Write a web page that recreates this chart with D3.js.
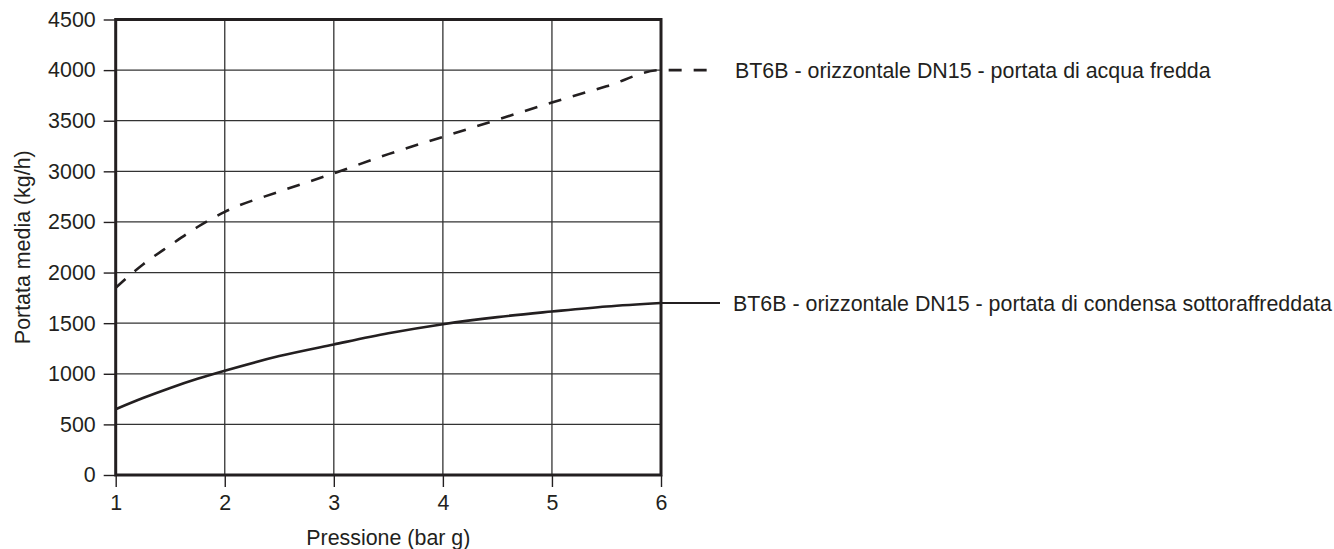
<!DOCTYPE html>
<html lang="it">
<head>
<meta charset="UTF-8">
<title>BT6B - portata media</title>
<script src="https://d3js.org/d3.v7.min.js"></script>
<style>
    html, body { margin: 0; padding: 0; background: #fff; }
    svg { display: block; }
    svg text { font-family: "Liberation Sans", Arial, sans-serif; fill: #231f20; }
</style>
</head>
<body>
<svg width="1334" height="549"></svg>
<script>
// pressure (bar g)
const pressione = [1, 1.25, 1.5, 1.75, 2, 2.5, 3, 3.5, 4, 4.5, 5, 5.5, 6];
// cold water flow, kg/h (dashed)
const acquaFredda = [1850, 2080, 2270, 2450, 2600, 2800, 2980, 3170, 3340, 3510, 3680, 3840, 4000];
// subcooled condensate flow, kg/h (solid)
const condensa = [650, 760, 860, 950, 1030, 1175, 1290, 1400, 1490, 1560, 1615, 1665, 1700];

const xTicks = [1, 2, 3, 4, 5, 6];
const yTicks = [0, 500, 1000, 1500, 2000, 2500, 3000, 3500, 4000, 4500];

const labelAcqua = "BT6B - orizzontale DN15 - portata di acqua fredda";
const labelCondensa = "BT6B - orizzontale DN15 - portata di condensa sottoraffreddata";

const ink = "#231f20";
const fs = 21.4;
const svg = d3.select("svg");

const x = d3.scaleLinear().domain([1, 6]).range([115.7, 661]);
const y = d3.scaleLinear().domain([0, 4500]).range([475, 19.5]);

// grid
const grid = svg.append("g").attr("stroke", "#333").attr("stroke-width", 1.3);
grid.selectAll(".vg").data(xTicks.slice(1, -1)).join("line")
    .attr("x1", d => x(d)).attr("x2", d => x(d))
    .attr("y1", y(0)).attr("y2", y(4500));
grid.selectAll(".hg").data(yTicks.slice(1, -1)).join("line")
    .attr("x1", x(1)).attr("x2", x(6))
    .attr("y1", d => y(d)).attr("y2", d => y(d));

// axes
const yAxis = svg.append("g")
    .attr("transform", `translate(${x(1)},0)`)
    .call(d3.axisLeft(y).tickValues(yTicks).tickFormat(d3.format("d")).tickSize(12).tickPadding(8));
const xAxis = svg.append("g")
    .attr("transform", `translate(0,${y(0)})`)
    .call(d3.axisBottom(x).tickValues(xTicks).tickFormat(d3.format("d")).tickSize(12).tickPadding(8));
[xAxis, yAxis].forEach(a => {
    a.attr("font-family", null).attr("font-size", null);
    a.select(".domain").remove();
    a.selectAll(".tick line").attr("stroke", ink).attr("stroke-width", 1.4);
    a.selectAll(".tick text").attr("font-size", fs).attr("fill", ink);
});

// frame
svg.append("rect")
    .attr("x", x(1)).attr("y", y(4500))
    .attr("width", x(6) - x(1)).attr("height", y(0) - y(4500))
    .attr("fill", "none").attr("stroke", ink).attr("stroke-width", 3);

// curves
const line = d3.line().curve(d3.curveMonotoneX);
const ptsAcqua = pressione.map((p, i) => [x(p), y(acquaFredda[i])]);
const ptsCondensa = pressione.map((p, i) => [x(p), y(condensa[i])]);

svg.append("path")
    .attr("d", line(ptsAcqua.concat([[718, y(4000)]])))
    .attr("fill", "none").attr("stroke", ink).attr("stroke-width", 2.6)
    .attr("stroke-dasharray", "13,12");

svg.append("path")
    .attr("d", line(ptsCondensa))
    .attr("fill", "none").attr("stroke", ink).attr("stroke-width", 2.6);
svg.append("line")
    .attr("x1", x(6)).attr("x2", 720)
    .attr("y1", y(1700)).attr("y2", y(1700))
    .attr("stroke", ink).attr("stroke-width", 2);

// series labels
svg.append("text").attr("x", 735).attr("y", y(4000)).attr("dy", "0.36em")
    .attr("font-size", fs).text(labelAcqua);
svg.append("text").attr("x", 733).attr("y", y(1700)).attr("dy", "0.36em")
    .attr("font-size", fs).text(labelCondensa);

// axis titles
svg.append("text")
    .attr("x", (x(1) + x(6)) / 2).attr("y", 545)
    .attr("text-anchor", "middle").attr("font-size", fs)
    .text("Pressione (bar g)");
svg.append("text")
    .attr("transform", `translate(30,${y(2250)}) rotate(-90)`)
    .attr("text-anchor", "middle").attr("font-size", fs)
    .text("Portata media (kg/h)");
</script>
</body>
</html>
